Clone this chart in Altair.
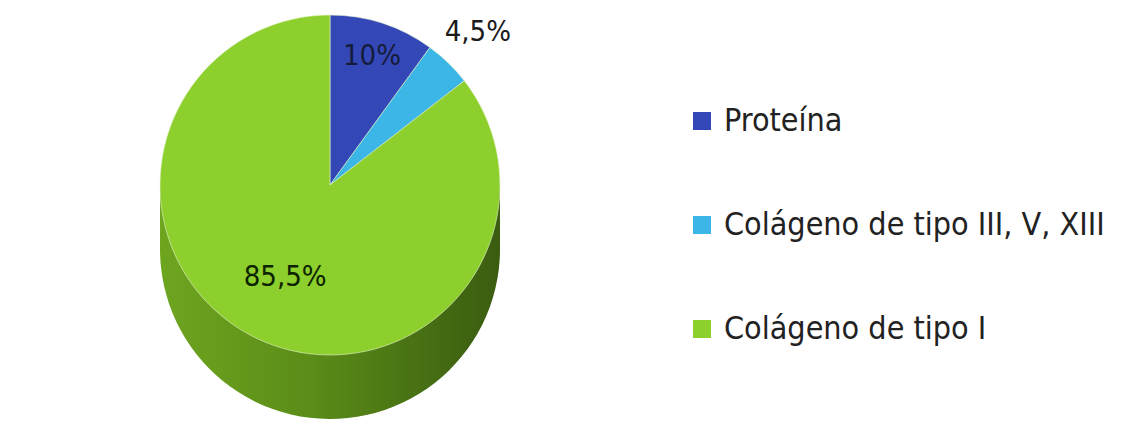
import altair as alt
import pandas as pd

# ---- data ----
categories = ["Proteína", "Colágeno de tipo III, V, XIII", "Colágeno de tipo I"]
values = [10, 4.5, 85.5]
labels = ["10%", "4,5%", "85,5%"]
slice_order = [0, 1, 2]
colors = ["#3447b6", "#3bb6e6", "#8dcf2d"]
label_colors = ["#141c3c", "#1a1a1a", "#0c2300"]

df = pd.DataFrame({"cat": categories, "val": values, "lab": labels, "ord": slice_order})

FONT = "DejaVu Sans Condensed, DejaVu Sans"
CX, CY, R, DEPTH = 330, 185, 170, 64

theta = alt.Theta("val:Q", stack=True)
order = alt.Order("ord:Q")
color = alt.Color(
    "cat:N",
    scale=alt.Scale(domain=categories, range=colors),
    sort=categories,
    legend=alt.Legend(
        title=None, orient="none", legendX=686, legendY=105,
        symbolType="square", symbolSize=324, symbolStrokeWidth=0,
        labelFont=FONT, labelFontSize=32, labelColor="#222222",
        labelLimit=0, rowPadding=72, labelOffset=6,
    ),
)

base = alt.Chart(df)

side_grad = alt.LinearGradient(
    gradient="linear", x1=0, x2=1, y1=0, y2=0,
    stops=[alt.GradientStop(color="#6ea51f", offset=0),
           alt.GradientStop(color="#5a8c18", offset=0.45),
           alt.GradientStop(color="#3a5c10", offset=1)],
)

side_layers = [
    base.mark_arc(radius=R, color=side_grad).encode(
        theta=theta, order=order, x=alt.value(CX), y=alt.value(CY + DEPTH * f)
    )
    for f in [1.0, 0.8, 0.6, 0.4, 0.2]
]

top = base.mark_arc(radius=R, stroke="#e8f5d0", strokeWidth=0.6).encode(
    theta=theta, order=order, color=color, x=alt.value(CX), y=alt.value(CY)
)


def label_layer(lab, radius_frac, col):
    return base.transform_filter(alt.datum.lab == lab).mark_text(
        font=FONT, fontSize=29, color=col
    ).encode(
        theta=theta, order=order, text="lab:N",
        x=alt.value(CX), y=alt.value(CY), radius=alt.value(R * radius_frac),
    )


# theta stacking must see the whole data, so filter inside a stacked window instead
def label_layer_full(lab, radius_frac, col):
    return base.mark_text(font=FONT, fontSize=29, color=col).encode(
        theta=theta, order=order, text="lab:N",
        x=alt.value(CX), y=alt.value(CY), radius=alt.value(R * radius_frac),
        opacity=alt.condition(alt.datum.lab == lab, alt.value(1), alt.value(0)),
    )


lab_layers = [
    label_layer_full(labels[0], 0.8, label_colors[0]),
    label_layer_full(labels[1], 1.25, label_colors[1]),
    label_layer_full(labels[2], 0.6, label_colors[2]),
]

chart = alt.layer(*side_layers, top, *lab_layers).properties(
    width=1121, height=426, padding=0,
    autosize=alt.AutoSizeParams(type="none"),
).configure_view(stroke=None)

chart.save("out.html", embed_options={"renderer": "svg", "actions": False})
